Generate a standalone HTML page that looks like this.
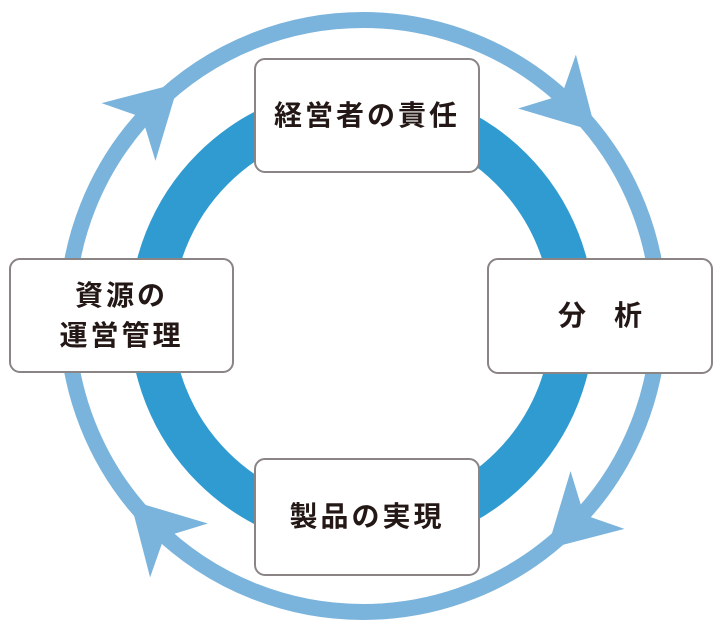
<!DOCTYPE html>
<html><head><meta charset="utf-8"><style>
html,body{margin:0;padding:0;background:#fff;}
body{width:714px;height:630px;position:relative;overflow:hidden;}
.b{position:absolute;box-sizing:border-box;border:2px solid #8a8485;border-radius:11px;background:#fff;display:flex;align-items:center;justify-content:center;text-align:center;font-family:"Liberation Sans","Noto Sans CJK JP",sans-serif;font-size:28px;font-weight:bold;color:#231815;letter-spacing:3px;line-height:40px;}
</style></head><body>
<svg width="714" height="630" style="position:absolute;left:0;top:0">
<circle cx="363" cy="316" r="296" fill="none" stroke="#7ab4dc" stroke-width="16"/>
<circle cx="362" cy="318" r="211" fill="none" stroke="#2f9bd0" stroke-width="43"/>
<g fill="#7ab4dc">
<polygon transform="rotate(-43 363 316)" points="659,340 697,270 659,290 618,270"/>
<polygon transform="rotate(47 363 316)" points="659,340 697,270 659,290 618,270"/>
<polygon transform="rotate(137 363 316)" points="659,340 697,270 659,290 618,270"/>
<polygon transform="rotate(227 363 316)" points="659,340 697,270 659,290 618,270"/>
</g>
</svg>
<div class="b" style="left:254px;top:58px;width:226px;height:115px;">経営者の責任</div>
<div class="b" style="left:9px;top:258px;width:225px;height:115px;">資源の<br>運営管理</div>
<div class="b" style="left:487px;top:258px;width:226px;height:116px;letter-spacing:0;">分　析</div>
<div class="b" style="left:254px;top:458px;width:226px;height:118px;">製品の実現</div>
</body></html>
